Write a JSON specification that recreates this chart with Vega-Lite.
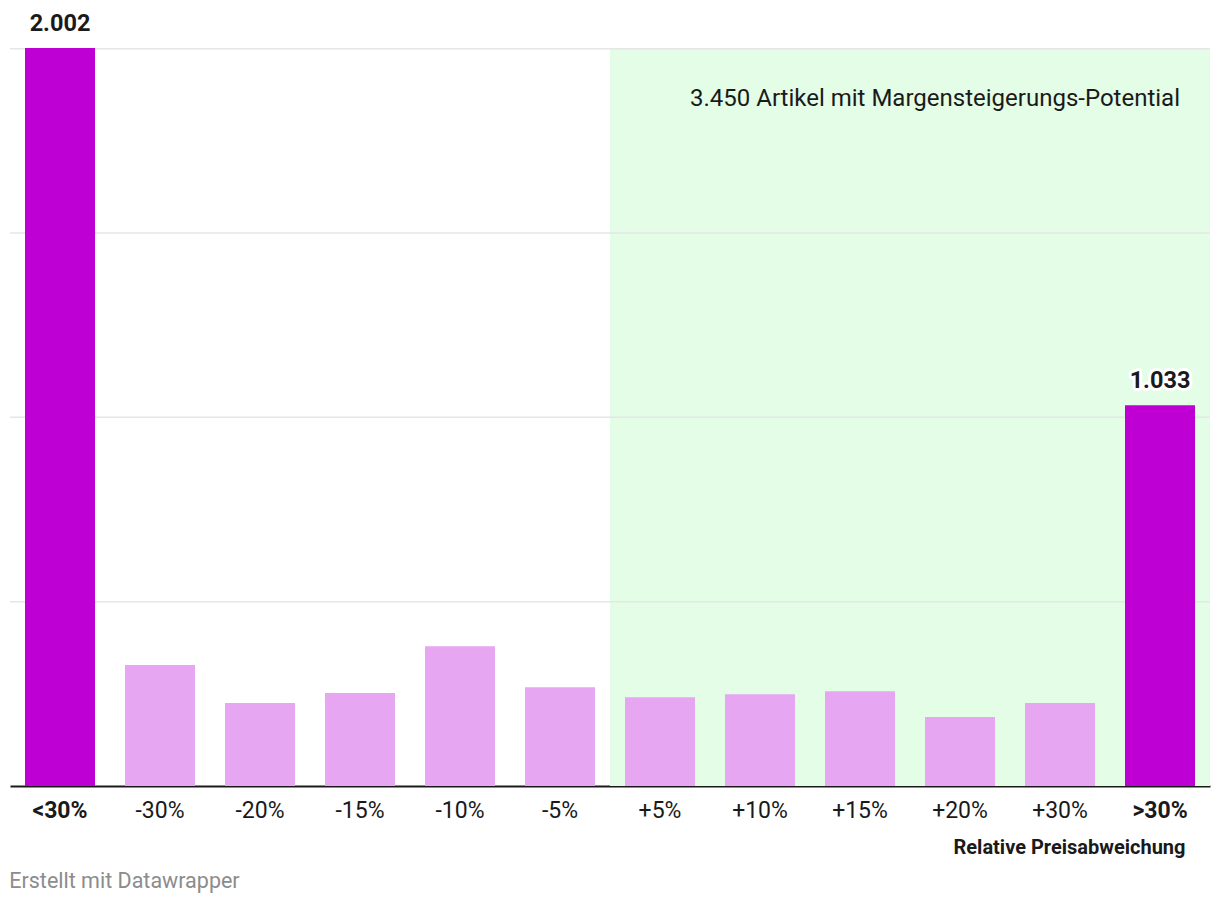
{
  "$schema": "https://vega.github.io/schema/vega-lite/v6.json",
  "width": 1200,
  "height": 738,
  "autosize": {"type": "none"},
  "padding": {"left": 10, "top": 48, "right": 10, "bottom": 120},
  "background": "white",
  "config": {
    "font": "Roboto",
    "view": {"stroke": null},
    "locale": {"number": {"decimal": ",", "thousands": ".", "grouping": [3], "currency": ["", " €"]}}
  },
  "title": {
    "text": "Erstellt mit Datawrapper",
    "orient": "bottom",
    "anchor": "start",
    "color": "#8c8c8c",
    "fontSize": 21.5,
    "fontWeight": "normal",
    "font": "Roboto",
    "offset": 14
  },
  "datasets": {
    "balken": [
      {"abweichung": "<30%", "artikel": 2002, "gruppe": "extrem", "potenzial": false},
      {"abweichung": "-30%", "artikel": 328, "gruppe": "normal", "potenzial": false},
      {"abweichung": "-20%", "artikel": 225, "gruppe": "normal", "potenzial": false},
      {"abweichung": "-15%", "artikel": 252, "gruppe": "normal", "potenzial": false},
      {"abweichung": "-10%", "artikel": 379, "gruppe": "normal", "potenzial": false},
      {"abweichung": "-5%", "artikel": 268, "gruppe": "normal", "potenzial": false},
      {"abweichung": "+5%", "artikel": 241, "gruppe": "normal", "potenzial": true},
      {"abweichung": "+10%", "artikel": 249, "gruppe": "normal", "potenzial": true},
      {"abweichung": "+15%", "artikel": 257, "gruppe": "normal", "potenzial": true},
      {"abweichung": "+20%", "artikel": 187, "gruppe": "normal", "potenzial": true},
      {"abweichung": "+30%", "artikel": 225, "gruppe": "normal", "potenzial": true},
      {"abweichung": ">30%", "artikel": 1033, "gruppe": "extrem", "potenzial": true}
    ],
    "gitter": [{"wert": 500}, {"wert": 1000}, {"wert": 1500}, {"wert": 2000}]
  },
  "data": {"name": "balken"},
  "layer": [
    {
      "transform": [{"filter": "datum.potenzial"}],
      "mark": {"type": "bar", "color": "#e4fde6", "width": {"band": 1.4286}},
      "encoding": {
        "x": {
          "field": "abweichung",
          "type": "nominal",
          "sort": ["<30%", "-30%", "-20%", "-15%", "-10%", "-5%", "+5%", "+10%", "+15%", "+20%", "+30%", ">30%"],
          "scale": {"domain": ["<30%", "-30%", "-20%", "-15%", "-10%", "-5%", "+5%", "+10%", "+15%", "+20%", "+30%", ">30%"], "paddingInner": 0.3, "paddingOuter": 0.15},
          "axis": {
            "title": "Relative Preisabweichung",
            "titleFontSize": 20,
            "titleFontWeight": "bold",
            "titleColor": "#1a1a1a",
            "titleAnchor": "end",
            "titleAlign": "right",
            "titleX": 1175,
            "titleY": 51,
            "labelAngle": 0,
            "labelFontSize": 23,
            "labelColor": "#1a1a1a",
            "labelPadding": 13,
            "labelFontWeight": {"expr": "datum.value == '<30%' || datum.value == '>30%' ? 'bold' : 'normal'"},
            "ticks": false,
            "grid": false,
            "domainColor": "#1a1a1a",
            "domainWidth": 2
          }
        },
        "y": {
          "datum": 0,
          "type": "quantitative",
          "scale": {"domain": [0, 2002], "nice": false},
          "axis": null
        },
        "y2": {"datum": 2002}
      }
    },
    {
      "data": {"name": "gitter"},
      "mark": {"type": "rule", "color": "#e6e6e6", "strokeWidth": 1.5},
      "encoding": {
        "y": {"field": "wert", "type": "quantitative"}
      }
    },
    {
      "mark": {"type": "bar"},
      "encoding": {
        "x": {"field": "abweichung", "type": "nominal", "sort": ["<30%", "-30%", "-20%", "-15%", "-10%", "-5%", "+5%", "+10%", "+15%", "+20%", "+30%", ">30%"]},
        "y": {"field": "artikel", "type": "quantitative"},
        "color": {
          "field": "gruppe",
          "type": "nominal",
          "scale": {"domain": ["extrem", "normal"], "range": ["#be00d5", "#e6a6f2"]},
          "legend": null
        }
      }
    },
    {
      "transform": [{"filter": "datum.gruppe == 'extrem'"}],
      "mark": {
        "type": "text",
        "fontSize": 23.5,
        "fontWeight": "bold",
        "color": "#1a1a1a",
        "baseline": "alphabetic",
        "dy": -17,
        "stroke": "white",
        "strokeWidth": 6,
        "strokeJoin": "round"
      },
      "encoding": {
        "x": {"field": "abweichung", "type": "nominal", "sort": ["<30%", "-30%", "-20%", "-15%", "-10%", "-5%", "+5%", "+10%", "+15%", "+20%", "+30%", ">30%"]},
        "y": {"field": "artikel", "type": "quantitative"},
        "text": {"field": "artikel", "type": "quantitative", "format": ",.0f"}
      }
    },
    {
      "transform": [{"filter": "datum.gruppe == 'extrem'"}],
      "mark": {
        "type": "text",
        "fontSize": 23.5,
        "fontWeight": "bold",
        "color": "#1a1a1a",
        "baseline": "alphabetic",
        "dy": -17
      },
      "encoding": {
        "x": {"field": "abweichung", "type": "nominal", "sort": ["<30%", "-30%", "-20%", "-15%", "-10%", "-5%", "+5%", "+10%", "+15%", "+20%", "+30%", ">30%"]},
        "y": {"field": "artikel", "type": "quantitative"},
        "text": {"field": "artikel", "type": "quantitative", "format": ",.0f"}
      }
    },
    {
      "data": {"values": [{"text": "3.450 Artikel mit Margensteigerungs-Potential", "abweichung": ">30%", "y": 1864}]},
      "mark": {
        "type": "text",
        "fontSize": 24,
        "color": "#1a1a1a",
        "align": "right",
        "baseline": "middle",
        "dx": 20
      },
      "encoding": {
        "x": {"field": "abweichung", "type": "nominal"},
        "y": {"field": "y", "type": "quantitative"},
        "text": {"field": "text"}
      }
    }
  ]
}
